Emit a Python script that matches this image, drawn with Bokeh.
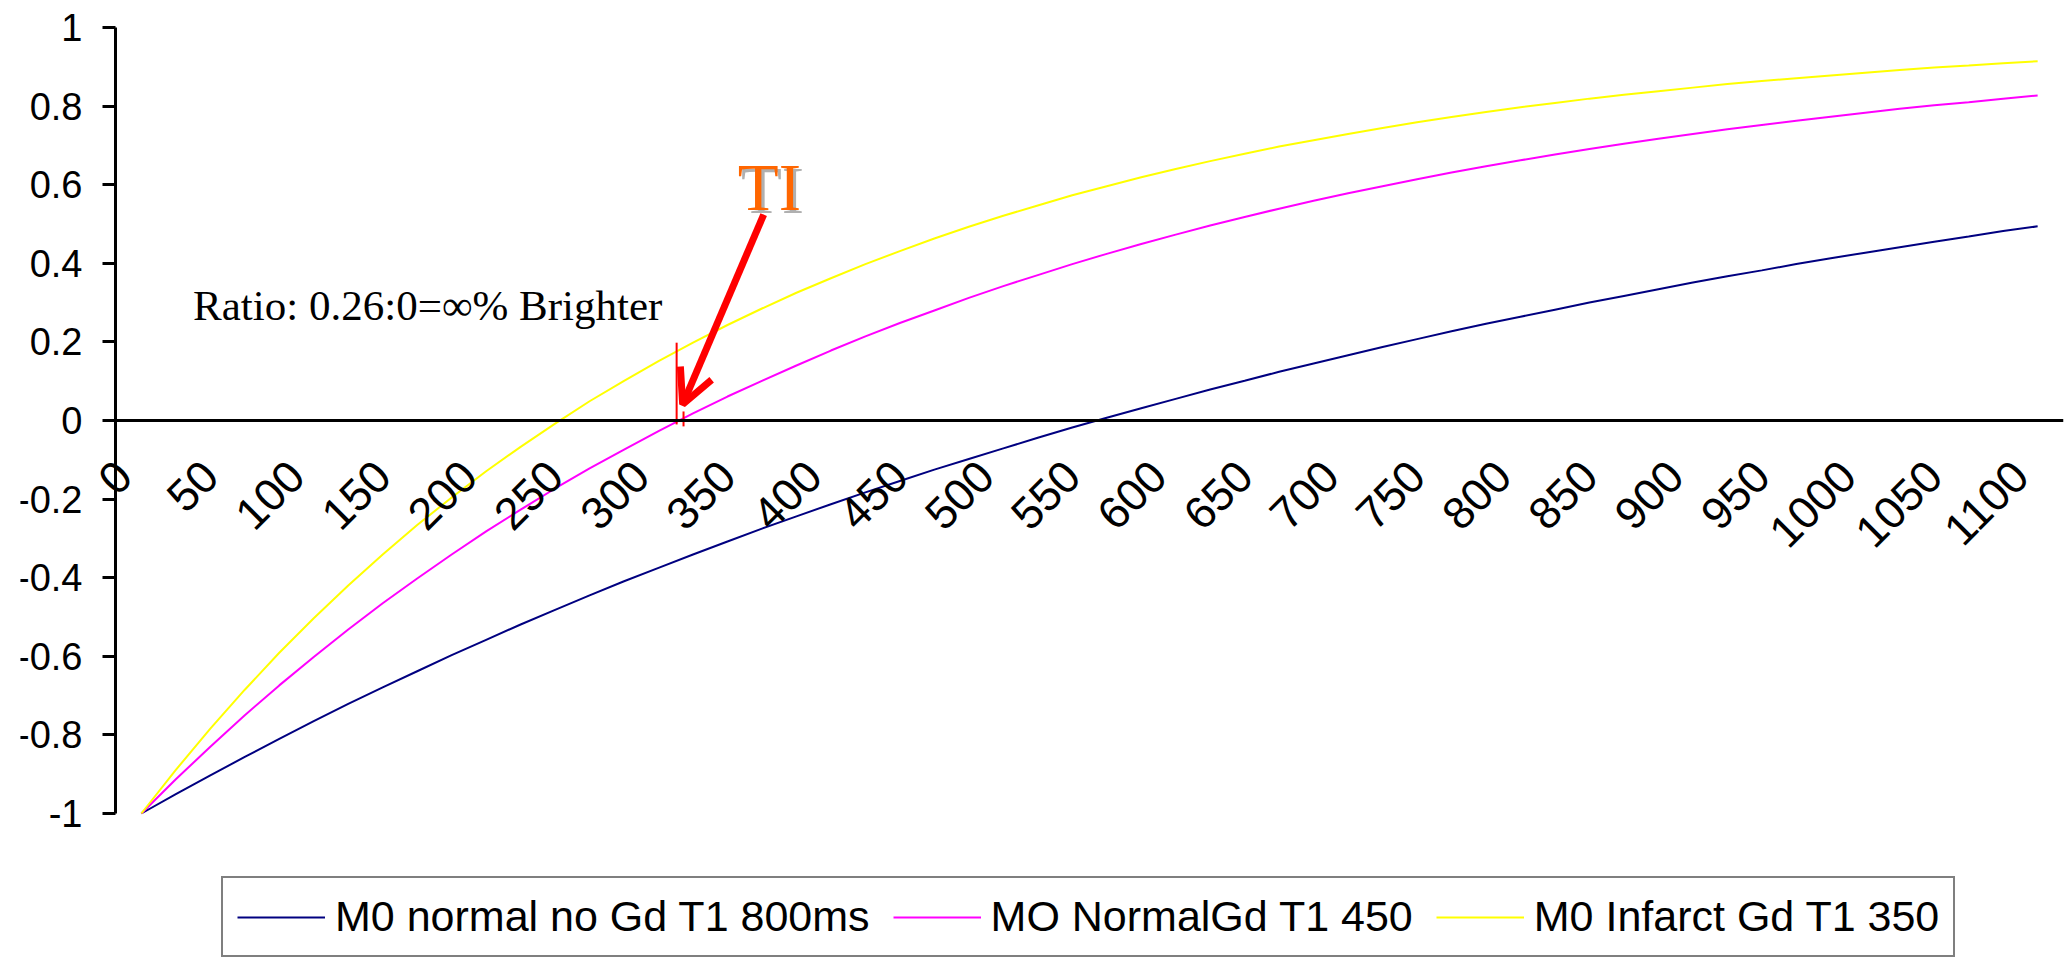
import math
from bokeh.plotting import figure
from bokeh.models import (FixedTicker, CustomJSTickFormatter, Legend, LegendItem, Label,
                          Arrow, OpenHead, LinearAxis, Range1d)
from bokeh.embed import file_html
from bokeh.resources import INLINE

# Category positions (ms) of the plotted points
time_ms = list(range(10, 1111, 20))

m0_normal_no_gd_t1_800 = [
    -1.000, -0.951, -0.903, -0.856, -0.810, -0.765, -0.721, -0.679, -0.638, -0.597,
    -0.558, -0.519, -0.482, -0.445, -0.409, -0.375, -0.341, -0.308, -0.275, -0.244,
    -0.213, -0.183, -0.154, -0.125, -0.098, -0.071, -0.044, -0.018, 0.007, 0.031,
    0.055, 0.079, 0.101, 0.124, 0.145, 0.166, 0.187, 0.207, 0.227, 0.246,
    0.264, 0.282, 0.300, 0.317, 0.334, 0.351, 0.367, 0.382, 0.398, 0.413,
    0.427, 0.441, 0.455, 0.468, 0.482, 0.494]

mo_normal_gd_t1_450 = [
    -1.000, -0.913, -0.830, -0.750, -0.674, -0.602, -0.532, -0.465, -0.402, -0.341,
    -0.282, -0.227, -0.173, -0.122, -0.074, -0.027, 0.018, 0.061, 0.101, 0.140,
    0.178, 0.214, 0.248, 0.280, 0.312, 0.342, 0.370, 0.398, 0.424, 0.449,
    0.473, 0.496, 0.518, 0.539, 0.559, 0.578, 0.596, 0.614, 0.631, 0.647,
    0.662, 0.677, 0.691, 0.704, 0.717, 0.729, 0.741, 0.752, 0.763, 0.773,
    0.783, 0.793, 0.802, 0.810, 0.819, 0.827]

m0_infarct_gd_t1_350 = [
    -1.000, -0.889, -0.784, -0.685, -0.591, -0.503, -0.420, -0.341, -0.266, -0.196,
    -0.129, -0.067, -0.008, 0.049, 0.101, 0.151, 0.198, 0.243, 0.285, 0.325,
    0.362, 0.398, 0.431, 0.463, 0.493, 0.521, 0.547, 0.573, 0.596, 0.619,
    0.640, 0.660, 0.679, 0.697, 0.713, 0.729, 0.744, 0.759, 0.772, 0.785,
    0.797, 0.808, 0.819, 0.829, 0.838, 0.847, 0.856, 0.864, 0.871, 0.878,
    0.885, 0.892, 0.898, 0.903, 0.909, 0.914]

series_labels = ["M0 normal no Gd T1 800ms", "MO NormalGd T1 450", "M0 Infarct Gd T1 350"]
series_colors = ["#000080", "#FF00FF", "#FFFF00"]

x_tick_values = list(range(0, 1101, 50))
y_tick_values = [-1, -0.8, -0.6, -0.4, -0.2, 0, 0.2, 0.4, 0.6, 0.8, 1]

ratio_text = "Ratio: 0.26:0=\u221e% Brighter"
ti_text = "TI"

X_START, X_END = -5, 1125   # category axis extent (half a category beyond 0 and 1120)

# The frame covers the whole page (minus small margins); both axes sit at fixed data
# locations inside it so that labels near the edges are not clipped.
p = figure(width=2071, height=959, x_range=Range1d(-60.11, X_END), y_range=Range1d(-1.3715, 1.0687),
           output_backend="svg", toolbar_location=None,
           x_axis_type=None, y_axis_type=None,
           min_border_left=20, min_border_right=8, min_border_top=0, min_border_bottom=0)
p.outline_line_color = None
p.background_fill_color = "white"
p.border_fill_color = "white"

yaxis = LinearAxis(fixed_location=X_START, ticker=FixedTicker(ticks=y_tick_values), bounds=(-1, 1),
                   formatter=CustomJSTickFormatter(code="""
                       if (Math.abs(tick - Math.round(tick)) < 1e-9) return Math.round(tick).toString();
                       return tick.toFixed(1);"""),
                   major_label_text_font="Liberation Sans", major_label_text_font_size="38px",
                   major_label_text_color="black",
                   major_tick_out=13, major_tick_in=0, major_tick_line_width=3,
                   minor_tick_line_color=None, axis_line_width=3, major_label_standoff=20)
p.add_layout(yaxis, "left")

xaxis = LinearAxis(fixed_location=0, ticker=FixedTicker(ticks=x_tick_values), bounds=(X_START, X_END),
                   major_label_orientation=math.pi / 4,
                   major_label_text_font="Liberation Sans", major_label_text_font_size="45px",
                   major_label_text_color="black",
                   major_tick_line_color=None, major_tick_out=0, major_tick_in=0,
                   minor_tick_line_color=None, axis_line_width=3, major_label_standoff=48)
p.add_layout(xaxis, "below")

renderers = []
for vals, col in zip([m0_normal_no_gd_t1_800, mo_normal_gd_t1_450, m0_infarct_gd_t1_350], series_colors):
    r = p.line(time_ms, vals, line_color=col, line_width=2)
    renderers.append(r)

# annotation marks
p.segment(x0=[320.5, 324.5], y0=[0.198, 0.023], x1=[320.5, 324.5], y1=[-0.010, -0.015],
          line_color="red", line_width=2)
p.add_layout(Arrow(end=OpenHead(line_color="red", line_width=7, size=34),
                   x_start=371, y_start=0.524, x_end=324, y_end=0.041,
                   line_color="red", line_width=7))
p.add_layout(Label(x=40, y=0.292, text=ratio_text, text_font="Liberation Serif",
                   text_font_size="43px", text_color="black", text_baseline="alphabetic"))
p.add_layout(Label(x=357.8, y=0.587, text=ti_text, text_font="Liberation Serif",
                   text_font_size="67px", text_color="#B0B0B0",
                   text_baseline="alphabetic"))
p.add_layout(Label(x=356, y=0.595, text=ti_text, text_font="Liberation Serif",
                   text_font_size="67px", text_color="#FF6600",
                   text_baseline="alphabetic"))

legend = Legend(items=[LegendItem(label=l, renderers=[r]) for l, r in zip(series_labels, renderers)],
                orientation="horizontal", location=(201, 2),
                label_text_font="Liberation Sans", label_text_font_size="43px",
                label_text_color="black",
                glyph_width=88, glyph_height=30, label_standoff=10, spacing=23, padding=14,
                border_line_color="black", border_line_width=2, background_fill_color="white",
                margin=0)
p.add_layout(legend, "center")

open("out.html", "w").write(file_html(p, INLINE))
